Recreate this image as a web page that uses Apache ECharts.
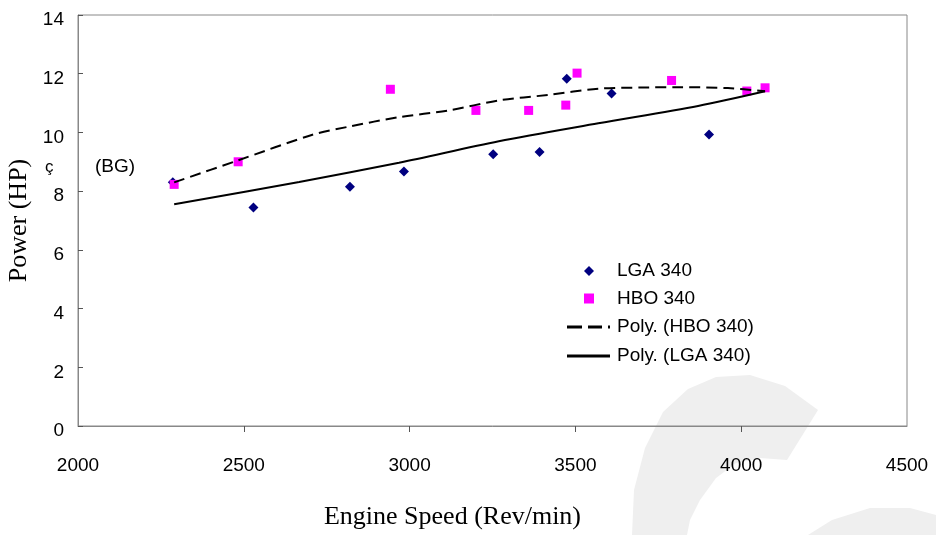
<!DOCTYPE html>
<html><head><meta charset="utf-8">
<script src="https://cdn.jsdelivr.net/npm/echarts@6/dist/echarts.min.js"></script>
<style>html,body{margin:0;padding:0;background:#fff}#c{width:936px;height:535px}</style>
</head><body><div id="c"></div>
<script>
const lgaSpeed = [2286, 2529, 2820, 2983, 3252, 3392, 3474, 3609, 3903];
const lgaPower = [8.30, 7.44, 8.15, 8.67, 9.26, 9.33, 11.83, 11.33, 9.93];
const hboSpeed = [2290, 2483, 2942, 3200, 3359, 3471, 3505, 3790, 4017, 4072];
const hboPower = [8.23, 9.00, 11.47, 10.75, 10.75, 10.93, 12.02, 11.77, 11.41, 11.52];
const hboTrendSpeed = [2290, 2483, 2707, 2818, 2968, 3118, 3269, 3419, 3569, 3700, 3810, 3960, 4072];
const hboTrendPower = [8.30, 9.05, 9.92, 10.20, 10.52, 10.75, 11.09, 11.28, 11.49, 11.53, 11.54, 11.51, 11.40];
const lgaTrendSpeed = [2290, 2667, 2968, 3269, 3569, 3870, 4072];
const lgaTrendPower = [7.55, 8.31, 8.97, 9.70, 10.31, 10.90, 11.40];
const xInnerTicks = [2500, 3000, 3500, 4000];
const seriesNames = ['LGA 340', 'HBO 340', 'Poly. (HBO 340)', 'Poly. (LGA 340)'];

const zip = (a, b) => a.map((v, i) => [v, b[i]]);
const chart = echarts.init(document.getElementById('c'));
const sans = 'Liberation Sans, Arial, sans-serif';
const serif = 'Liberation Serif, Times New Roman, serif';
const legendText = { color: '#000', fontSize: 19, fontFamily: sans, lineHeight: 20 };
chart.setOption({
  animation: false,
  backgroundColor: '#fff',
  grid: { left: 78, right: 29, top: 15, bottom: 109, show: true, borderColor: '#888', borderWidth: 1,
    backgroundColor: 'transparent', containLabel: false, outerBoundsMode: 'none' },
  xAxis: {
    type: 'value', min: 2000, max: 4500, interval: 500,
    splitLine: { show: false },
    axisLine: { show: true, lineStyle: { color: '#888' } },
    axisTick: { show: true, length: 6, customValues: xInnerTicks, lineStyle: { color: '#555' } },
    axisLabel: { color: '#000', fontSize: 19, fontFamily: sans, margin: 30, formatter: v => String(v) },
    name: 'Engine Speed (Rev/min)', nameLocation: 'middle', nameGap: 78,
    nameTextStyle: { color: '#000', fontSize: 26, fontFamily: serif, padding: [0, 80, 0, 0] }
  },
  yAxis: {
    type: 'value', min: 0, max: 14, interval: 2,
    splitLine: { show: false },
    axisLine: { show: true, lineStyle: { color: '#888' } },
    axisTick: { show: true, inside: true, length: 5, lineStyle: { color: '#555' } },
    axisLabel: { color: '#000', fontSize: 19, fontFamily: sans, margin: 14, verticalAlign: 'top', lineHeight: 10 },
    name: 'Power (HP)', nameLocation: 'middle', nameGap: 44,
    nameTextStyle: { color: '#000', fontSize: 26, fontFamily: serif }
  },
  legend: [
    { orient: 'vertical', left: 584, top: 261, padding: 0,
      itemWidth: 10, itemHeight: 10, itemGap: 7.5,
      data: [{ name: seriesNames[0], icon: 'diamond' }, { name: seriesNames[1], icon: 'rect' }],
      textStyle: Object.assign({ padding: [0, 0, 0, 18] }, legendText) },
    { orient: 'vertical', left: 567, top: 317, padding: 0,
      itemWidth: 43, itemHeight: 3, itemGap: 9,
      data: [
        { name: seriesNames[2], icon: 'path://M0,0h15v3h-15z M21,0h14v3h-14z M41,0h2v3h-2z' },
        { name: seriesNames[3], icon: 'path://M0,0h43v3h-43z' }
      ],
      textStyle: Object.assign({ padding: [0, 0, 0, 2] }, legendText) }
  ],
  graphic: { elements: [
    { type: 'polygon', z: -100, silent: true,
      shape: { points: [[632,535],[634,490],[645,448],[663,412],[688,389],[716,377],[750,375],[785,386],[818,410],[787,460],[760,458],[736,463],[716,478],[700,500],[690,520],[687,535]] },
      style: { fill: '#efefef' } },
    { type: 'polygon', z: -100, silent: true,
      shape: { points: [[808,535],[832,520],[870,508],[910,508],[936,515],[936,535]] },
      style: { fill: '#efefef' } },
    { type: 'text', left: 95, top: 157, style: { text: '(BG)', fill: '#000', font: '19px ' + sans } },
    { type: 'text', left: 45, top: 159, style: { text: 'ç', fill: '#000', font: '17px ' + sans } }
  ] },
  series: [
    { name: seriesNames[0], type: 'scatter', data: zip(lgaSpeed, lgaPower), symbol: 'diamond', symbolSize: 10,
      itemStyle: { color: '#000080', opacity: 1 }, z: 3 },
    { name: seriesNames[1], type: 'scatter', data: zip(hboSpeed, hboPower), symbol: 'rect', symbolSize: 9,
      itemStyle: { color: '#ff00ff', opacity: 1 }, z: 4 },
    { name: seriesNames[2], type: 'line', data: zip(hboTrendSpeed, hboTrendPower), smooth: 0.3, symbol: 'none', showSymbol: false,
      lineStyle: { color: '#000', width: 2, type: [11, 6] }, itemStyle: { color: '#000' }, z: 5 },
    { name: seriesNames[3], type: 'line', data: zip(lgaTrendSpeed, lgaTrendPower), smooth: 0.3, symbol: 'none', showSymbol: false,
      lineStyle: { color: '#000', width: 2 }, itemStyle: { color: '#000' }, z: 5 }
  ]
});
</script></body></html>
